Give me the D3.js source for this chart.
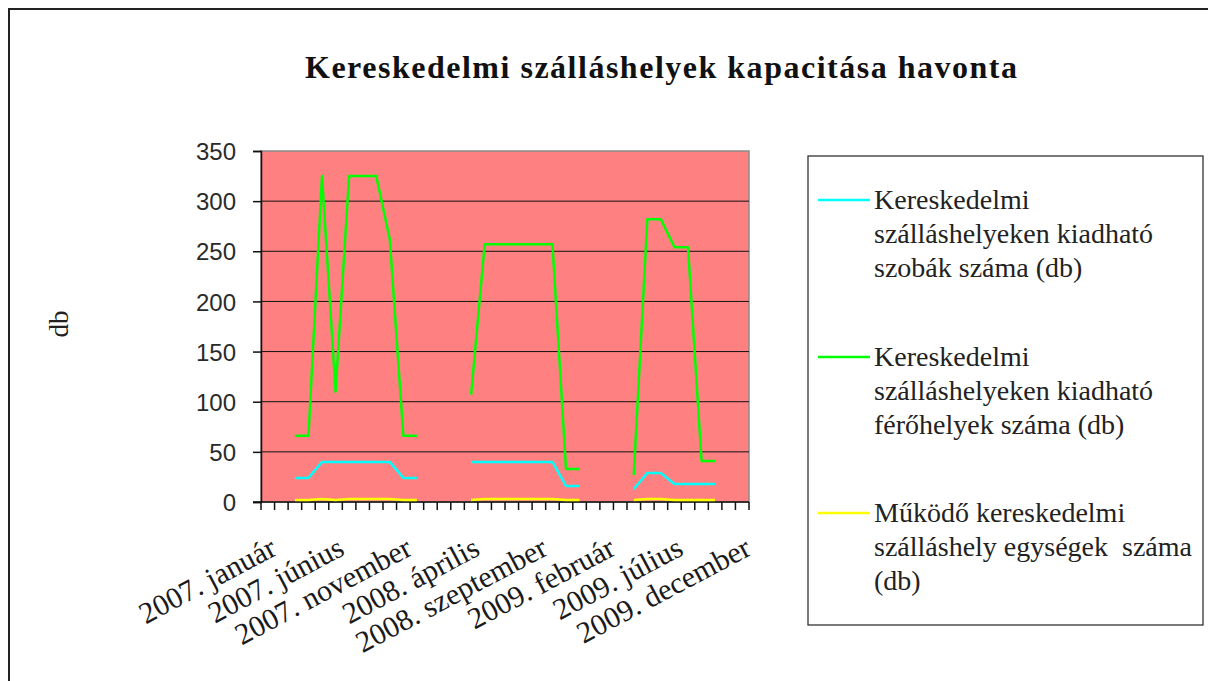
<!DOCTYPE html>
<html>
<head>
<meta charset="utf-8">
<script src="https://cdn.jsdelivr.net/npm/d3@7"></script>
<style>
  html, body { margin: 0; padding: 0; background: #fff; }
  svg { display: block; }
</style>
</head>
<body>
<svg id="chart" width="1208" height="681"></svg>
<script>
// ---- data ----
const monthNames = ["január","február","március","április","május","június","július","augusztus","szeptember","október","november","december"];
const years = [2007, 2008, 2009];
const categories = [];
years.forEach(y => monthNames.forEach(m => categories.push(y + ". " + m)));

// szobák (rooms)
const rooms = [
  null, null, 24, 24, 40, 40, 40, 40, 40, 40, 24, 24,
  null, null, null, 40, 40, 40, 40, 40, 40, 40, 16, 16,
  null, null, null, 13, 29, 29, 18, 18, 18, 18, null, null
];
// férőhelyek (beds)
const beds = [
  null, null, 66, 66, 325, 110, 325, 325, 325, 262, 66, 66,
  null, null, null, 107, 257, 257, 257, 257, 257, 257, 33, 33,
  null, null, null, 27, 282, 282, 254, 254, 41, 41, null, null
];
// egységek (units)
const units = [
  null, null, 2, 2, 3, 2, 3, 3, 3, 3, 2, 2,
  null, null, null, 2, 3, 3, 3, 3, 3, 3, 2, 2,
  null, null, null, 2, 3, 3, 2, 2, 2, 2, null, null
];
const yTicks = [0, 50, 100, 150, 200, 250, 300, 350];
const xLabelIdx = [0, 5, 10, 15, 20, 25, 30, 35];

const seriesNames = [
  ["Kereskedelmi", "szálláshelyeken kiadható", "szobák száma (db)"],
  ["Kereskedelmi", "szálláshelyeken kiadható", "férőhelyek száma (db)"],
  ["Működő kereskedelmi", "szálláshely egységek  száma", "(db)"]
];
const seriesColors = ["#00FFFF", "#00FF00", "#FFFF00"];
const seriesData = [rooms, beds, units];

const titleText = "Kereskedelmi szálláshelyek kapacitása havonta";
const yTitle = "db";

// ---- layout ----
const svg = d3.select("#chart");
const plot = { left: 261, right: 749, top: 151, bottom: 502 };
const serif = "'Liberation Serif', 'DejaVu Serif', serif";

svg.append("rect").attr("width", 1208).attr("height", 681).attr("fill", "#fff");
// outer frame (top & left visible)
svg.append("line").attr("x1", 8).attr("x2", 1208).attr("y1", 9).attr("y2", 9)
  .attr("stroke", "#222").attr("stroke-width", 2);
svg.append("line").attr("x1", 9).attr("x2", 9).attr("y1", 8).attr("y2", 681)
  .attr("stroke", "#222").attr("stroke-width", 2);

const x = d3.scaleBand().domain(categories).range([plot.left, plot.right]).padding(0);
const y = d3.scaleLinear().domain([0, 350]).range([plot.bottom, plot.top]);
const cx = c => x(c) + x.bandwidth() / 2;

// plot background
svg.append("rect")
  .attr("x", plot.left).attr("y", plot.top)
  .attr("width", plot.right - plot.left).attr("height", plot.bottom - plot.top)
  .attr("fill", "#FF8080").attr("stroke", "#8a8a8a").attr("stroke-width", 1.5);

// gridlines
svg.append("g").selectAll("line")
  .data(yTicks.filter(t => t > 0 && t < 350))
  .join("line")
  .attr("x1", plot.left).attr("x2", plot.right)
  .attr("y1", d => y(d)).attr("y2", d => y(d))
  .attr("stroke", "#111").attr("stroke-width", 1);

// y axis
const yAxis = d3.axisLeft(y).tickValues(yTicks).tickSize(8).tickPadding(17).tickFormat(d3.format("d"));
const gy = svg.append("g").attr("transform", `translate(${plot.left},0)`).call(yAxis);
gy.select(".domain").attr("stroke", "#111").attr("stroke-width", 1.5);
gy.selectAll(".tick line").attr("stroke", "#111").attr("stroke-width", 1.5);
gy.selectAll(".tick text")
  .attr("font-family", "'Liberation Sans', Arial, sans-serif")
  .attr("font-size", 24).attr("fill", "#2a2a2a").attr("dy", "0.36em");

// x axis: ticks at band boundaries
const bounds = categories.map(c => x(c)).concat([plot.right]);
const gx = svg.append("g");
gx.append("line").attr("x1", plot.left - 8).attr("x2", plot.right)
  .attr("y1", plot.bottom).attr("y2", plot.bottom)
  .attr("stroke", "#111").attr("stroke-width", 1.5);
gx.selectAll("line.tk").data(bounds).join("line").attr("class", "tk")
  .attr("x1", d => d).attr("x2", d => d)
  .attr("y1", plot.bottom).attr("y2", plot.bottom + 8)
  .attr("stroke", "#111").attr("stroke-width", 1.5);
gx.selectAll("text").data(xLabelIdx).join("text")
  .attr("transform", i => `translate(${cx(categories[i]) + 10.5},${554}) rotate(-28)`)
  .attr("text-anchor", "end")
  .attr("font-family", serif).attr("font-size", 30).attr("fill", "#1a1a1a")
  .text(i => categories[i]);

// lines
const line = d3.line()
  .defined(d => d.v != null)
  .x(d => cx(d.c)).y(d => y(d.v));
seriesData.forEach((arr, k) => {
  svg.append("path")
    .datum(categories.map((c, i) => ({ c, v: arr[i] })))
    .attr("d", line)
    .attr("fill", "none")
    .attr("stroke", seriesColors[k])
    .attr("stroke-width", 2.5)
    .attr("stroke-linejoin", "round");
});

// title
svg.append("text")
  .attr("x", 661).attr("y", 78)
  .attr("text-anchor", "middle")
  .attr("font-family", serif).attr("font-weight", "bold").attr("font-size", 32)
  .attr("textLength", 712).attr("lengthAdjust", "spacing")
  .attr("fill", "#111")
  .text(titleText);

// y title
svg.append("text")
  .attr("transform", "translate(68,324) rotate(-90)")
  .attr("text-anchor", "middle")
  .attr("font-family", serif).attr("font-size", 27).attr("fill", "#222")
  .text(yTitle);

// legend
const lg = svg.append("g");
lg.append("rect").attr("x", 808).attr("y", 156).attr("width", 395).attr("height", 469)
  .attr("fill", "#fff").attr("stroke", "#222").attr("stroke-width", 1.2);
const itemY = [200, 357, 513];
seriesNames.forEach((lines, k) => {
  lg.append("line").attr("x1", 818).attr("x2", 870)
    .attr("y1", itemY[k]).attr("y2", itemY[k])
    .attr("stroke", seriesColors[k]).attr("stroke-width", 2.5);
  const t = lg.append("text")
    .attr("font-family", serif).attr("font-size", 28).attr("fill", "#222")
    .attr("xml:space", "preserve");
  lines.forEach((s, j) => {
    t.append("tspan").attr("x", 874).attr("y", itemY[k] + 9 + j * 34).text(s);
  });
});
</script>
</body>
</html>
